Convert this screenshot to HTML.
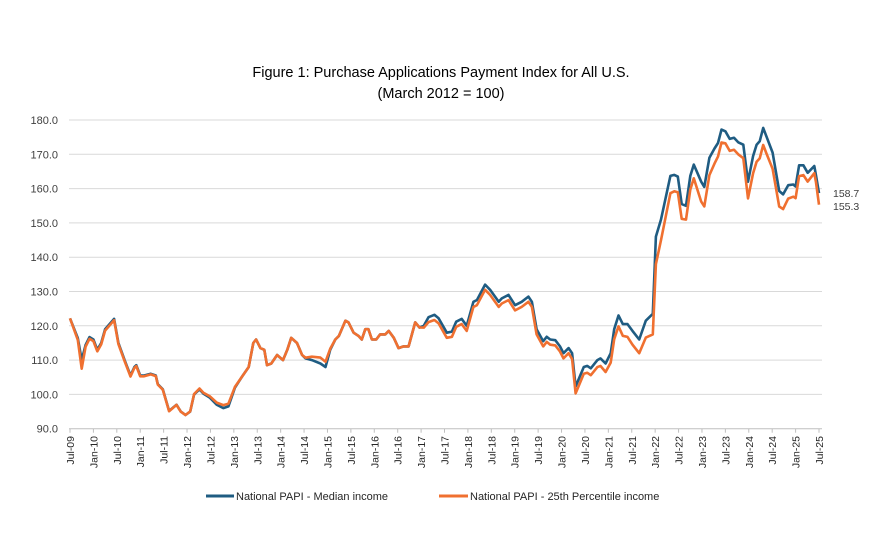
<!DOCTYPE html>
<html><head><meta charset="utf-8"><style>
body{margin:0;background:#fff;}
svg{display:block;font-family:"Liberation Sans",sans-serif;}
</style></head><body>
<svg id="s" width="883" height="539" viewBox="0 0 883 539" xmlns="http://www.w3.org/2000/svg">
<text x="441" y="77" text-anchor="middle" font-size="14.5" fill="#000">Figure 1: Purchase Applications Payment Index for All U.S.</text>
<text x="441" y="98" text-anchor="middle" font-size="14.5" fill="#000">(March 2012 = 100)</text>
<g id="grid"></g>
<g id="lines"></g>
<text x="833" y="197" font-size="10.5" fill="#404040">158.7</text>
<text x="833" y="210" font-size="10.5" fill="#404040">155.3</text>
<line x1="206" y1="496" x2="234" y2="496" stroke="#1f5c82" stroke-width="3"/>
<text x="236" y="500" font-size="11" fill="#262626">National PAPI - Median income</text>
<line x1="439" y1="496" x2="468" y2="496" stroke="#f07030" stroke-width="3"/>
<text x="470" y="500" font-size="11" fill="#262626">National PAPI - 25th Percentile income</text>
</svg>
<script>
var NS="http://www.w3.org/2000/svg";
function X(m){return 70+m*749/192;}
function Y(v){return 120+(180-v)*3.43;}
var g=document.getElementById('grid'),L=document.getElementById('lines');
function el(t,a,p,txt){var e=document.createElementNS(NS,t);for(var k in a)e.setAttribute(k,a[k]);if(txt)e.textContent=txt;p.appendChild(e);return e;}
for(var v=90;v<=180;v+=10){var y=Y(v);
el('line',{x1:69,x2:822,y1:y,y2:y,stroke:v==90?'#bfbfbf':'#d9d9d9','stroke-width':1},g);
el('text',{x:58,y:y+4,'text-anchor':'end','font-size':'11',fill:'#404040'},g,v.toFixed(1));}
for(var m=0;m<=192;m+=6){var x=X(m);
el('line',{x1:x,x2:x,y1:Y(90),y2:Y(90)+4,stroke:'#bfbfbf'},g);
var yr=(9+Math.floor((m+6)/12));var lab=(m%12==0?'Jul-':'Jan-')+(yr<10?'0':'')+yr;
el('text',{x:0,y:0,'text-anchor':'end','font-size':'10.5',fill:'#262626',transform:'translate('+(x+4)+',436) rotate(-90)'},g,lab);}
var P=[[0,122.2],[2,116.4],[3,110],[4,114.4],[5,116.7],[6,116],[7,113],[8,115],[9,119],[11.3,122],[12.4,115],[14,110],[15.5,105.5],[16.5,108],[17,108.5],[18,105.5],[19,105.5],[20.7,106],[22,105.5],[22.5,103],[23.8,101.5],[25.4,95.2],[27.3,97],[28.4,95],[29.6,94],[30.8,95],[31.8,100],[33.2,101.5],[34.2,100.2],[35.9,99],[37.6,97],[39.3,96],[40.6,96.5],[42.3,102],[44,105],[45.8,108],[47,115],[47.7,116],[48.8,113.5],[49.8,113],[50.5,108.5],[51.6,109],[53.1,111.5],[54.6,110],[55.7,113],[56.7,116.5],[58.2,115],[59.5,111.5],[60.4,110.5],[62,110],[64.2,109],[65.5,108],[66.7,113],[68,116],[68.9,117],[70.6,121.5],[71.4,121],[72.7,118],[74,117],[74.8,116],[75.7,119],[76.5,119],[77.4,116],[78.5,116],[79.5,117.5],[80.8,117.5],[81.7,118.5],[83,116.5],[84.2,113.5],[85.5,114],[86.8,114],[88.5,121],[89.6,119.5],[90.7,120],[91.9,122.5],[93.4,123.2],[94.5,122.2],[96.6,118],[97.9,118.3],[99,121.2],[100.4,122],[101.7,120],[103.4,127],[104.3,127.5],[106.4,132],[107.7,130.5],[109.9,127],[110.7,128],[112.4,129],[114.1,126],[115.8,127],[117.5,128.5],[118.4,127],[119.6,119],[121.3,115.5],[122.2,116.8],[123.1,116],[124.4,115.8],[125.6,114],[126.5,112],[127.8,113.5],[128.7,112],[129.6,102.3],[131.7,108],[132.6,108.3],[133.5,107.6],[135.2,110],[136,110.5],[137.3,109],[138.6,112],[139.5,119],[140.6,123],[141.7,120.5],[142.9,120.5],[144.2,118.5],[145.9,116],[147.6,121.5],[149.4,123.5],[150.2,146],[151.5,151],[153.9,163.7],[154.9,164],[155.8,163.5],[156.8,155.5],[157.9,155],[159,163.7],[159.9,167],[161.8,162],[162.6,160.5],[163.9,169],[165.2,171.7],[166.1,173.3],[167,177.2],[168,176.7],[169.1,174.5],[170.2,174.8],[171.3,173.5],[172.6,172.8],[173.8,162],[175.1,169.5],[176,172.8],[176.8,173.8],[177.7,177.7],[178.5,175.3],[180.1,170.5],[181.8,159.3],[182.8,158.3],[184.1,161],[185.4,161.2],[186,160.6],[186.9,166.8],[188,166.8],[189.1,164.6],[190.8,166.6],[191.2,164],[192,158.7]];
var D=[[0,0],[2,0.5],[3,2.5],[4,0.5],[30,0],[37,-0.5],[40,-1],[43,0],[60,0],[62,-1],[65,-2],[67,0],[90,0],[92,1.5],[128,1.5],[129.6,2],[135,2],[140,3],[144,4],[146,4],[149.4,6],[150.2,8],[151.5,6],[154,5],[158,4],[160,4],[162,6],[166,4],[168,3.5],[172,3.5],[174,5],[178,5],[182,4.5],[191.2,2],[192,3.4]];
function d(m){for(var i=1;i<D.length;i++){if(m<=D[i][0]){var a=D[i-1],b=D[i];return a[1]+(b[1]-a[1])*(m-a[0])/(b[0]-a[0]);}}return 3.4;}
var pb=P.map(function(p){return X(p[0]).toFixed(1)+','+Y(p[1]).toFixed(1)}).join(' ');
var po=P.map(function(p){return X(p[0]).toFixed(1)+','+Y(p[1]-d(p[0])).toFixed(1)}).join(' ');
el('polyline',{points:pb,fill:'none',stroke:'#1f5c82','stroke-width':2.6,'stroke-linejoin':'round'},L);
el('polyline',{points:po,fill:'none',stroke:'#f07030','stroke-width':2.6,'stroke-linejoin':'round'},L);
</script>
</body></html>
